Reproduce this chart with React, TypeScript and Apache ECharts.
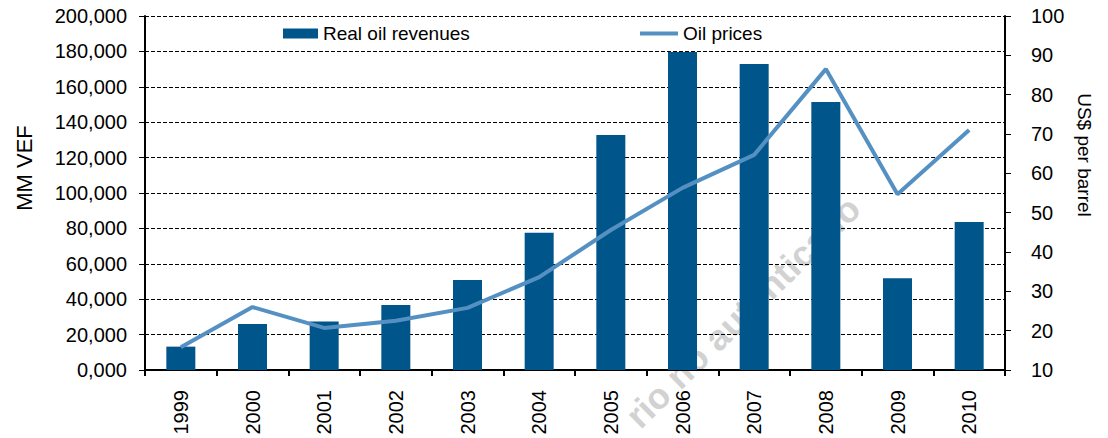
import React, { useEffect, useRef } from "react";
import * as echarts from "echarts";

const years = ["1999", "2000", "2001", "2002", "2003", "2004", "2005", "2006", "2007", "2008", "2009", "2010"];
const realOilRevenues = [13200, 26000, 27400, 36700, 50800, 77600, 132800, 179700, 172900, 151400, 51800, 83600];
const oilPrices = [15.8, 26.0, 20.7, 22.5, 25.8, 33.6, 45.6, 56.3, 64.7, 86.5, 54.7, 71.0];

const FONT = "'Liberation Sans', Arial, sans-serif";
const BAR_COLOR = "#00558B";
const LINE_COLOR = "#5590C3";

function fmtLeft(v: number): string {
  if (v === 0) return "0,000";
  return v.toLocaleString("en-US");
}

export default function App() {
  const ref = useRef<HTMLDivElement>(null);
  useEffect(() => {
    document.body.style.margin = "0";
    if (!ref.current) return;
    const chart = echarts.init(ref.current, undefined, { renderer: "svg" });
    chart.setOption({
      animation: false,
      backgroundColor: "#ffffff",
      textStyle: { fontFamily: FONT },
      grid: { left: 145, right: 103, top: 16, bottom: 68, containLabel: false },
      legend: [
        {
          data: ["Real oil revenues"],
          left: 283,
          top: 24,
          padding: 0,
          itemWidth: 35,
          itemHeight: 10,
          icon: "rect",
          textStyle: { fontFamily: FONT, fontSize: 19, color: "#000" },
        },
        {
          data: [{ name: "Oil prices", icon: "rect", itemStyle: { color: LINE_COLOR } }],
          left: 640,
          top: 24,
          padding: 0,
          itemWidth: 38,
          itemHeight: 4,
          textStyle: { fontFamily: FONT, fontSize: 19, color: "#000" },
        },
      ],
      xAxis: {
        type: "category",
        data: years,
        axisLine: { show: true, lineStyle: { color: "#000", width: 2 } },
        axisTick: { show: true, alignWithLabel: false, length: 6, lineStyle: { color: "#000", width: 2 } },
        axisLabel: {
          rotate: 90,
          margin: 20,
          fontSize: 20,
          color: "#000",
          fontFamily: FONT,
        },
      },
      yAxis: [
        {
          type: "value",
          min: 0,
          max: 200000,
          interval: 20000,
          axisLine: { show: true, lineStyle: { color: "#000", width: 2 } },
          axisTick: { show: true, length: 6, lineStyle: { color: "#000", width: 1 } },
          axisLabel: { formatter: fmtLeft, fontSize: 20, color: "#000", margin: 18, fontFamily: FONT },
          splitLine: { show: true, lineStyle: { color: "#000", type: [4, 2], width: 1 } },
        },
        {
          type: "value",
          min: 10,
          max: 100,
          interval: 10,
          position: "right",
          axisLine: { show: true, lineStyle: { color: "#000", width: 2 } },
          axisTick: { show: true, length: 6, lineStyle: { color: "#000", width: 1 } },
          axisLabel: { fontSize: 20, color: "#000", margin: 26, fontFamily: FONT },
          splitLine: { show: false },
        },
      ],
      series: [
        {
          name: "Real oil revenues",
          type: "bar",
          data: realOilRevenues,
          barWidth: 29,
          itemStyle: { color: BAR_COLOR },
          yAxisIndex: 0,
        },
        {
          name: "Oil prices",
          type: "line",
          data: oilPrices,
          yAxisIndex: 1,
          symbol: "none",
          lineStyle: { color: LINE_COLOR, width: 4 },
          itemStyle: { color: LINE_COLOR },
        },
      ],
      graphic: [
        {
          type: "text",
          x: 24,
          y: 168,
          rotation: Math.PI / 2,
          style: {
            text: "MM VEF",
            fontSize: 22,
            fontFamily: FONT,
            fill: "#000",
            align: "center",
            verticalAlign: "middle",
          },
        },
        {
          type: "text",
          x: 1084,
          y: 155,
          rotation: -Math.PI / 2,
          style: {
            text: "US$ per barrel",
            fontSize: 19,
            fontFamily: FONT,
            fill: "#000",
            align: "center",
            verticalAlign: "middle",
          },
        },
        {
          type: "text",
          x: 743,
          y: 312,
          rotation: (44.5 * Math.PI) / 180,
          z: -10,
          style: {
            text: "rio no autenticado",
            fontSize: 36,
            fontWeight: "bold",
            fontFamily: FONT,
            fill: "#d2d2d2",
            align: "center",
            verticalAlign: "middle",
          },
        },
      ],
    });
    return () => chart.dispose();
  }, []);
  return <div ref={ref} style={{ width: 1108, height: 438 }} />;
}
